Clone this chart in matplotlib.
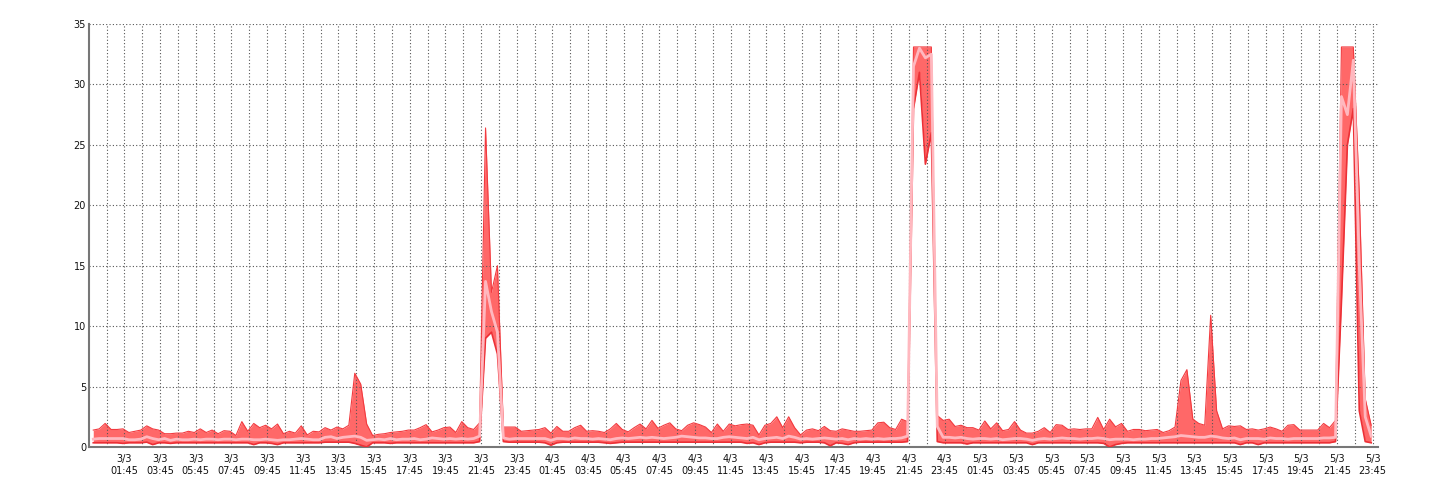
import numpy as np
import matplotlib
matplotlib.use('Agg')
import matplotlib.pyplot as plt

# 20-minute samples, 3 per hour, starting 3/3 00:00
upper = [
    1.4, 1.5, 1.95,   1.45, 1.45, 1.5,   1.2, 1.3, 1.4,    1.75, 1.5, 1.4,
    1.1, 1.1, 1.15,   1.15, 1.3, 1.2,    1.5, 1.2, 1.4,    1.1, 1.35, 1.3,
    0.95, 2.1, 1.3,   1.95, 1.6, 1.8,    1.5, 1.9, 1.1,    1.3, 1.15, 1.75,
    1.0, 1.3, 1.25,   1.6, 1.4, 1.65,    1.5, 1.8, 6.1,    5.2, 1.9, 0.95,
    1.05, 1.1, 1.2,   1.25, 1.3, 1.4,    1.4, 1.6, 1.85,   1.25, 1.4, 1.6,
    1.65, 1.2, 2.1,   1.6, 1.45, 2.0,    26.4, 12.8, 15.0, 1.65, 1.65, 1.65,
    1.3, 1.35, 1.4,   1.45, 1.6, 1.15,   1.7, 1.3, 1.3,    1.6, 1.8, 1.3,
    1.35, 1.3, 1.2,   1.5, 1.95, 1.45,   1.25, 1.6, 1.9,   1.5, 2.2, 1.55,
    1.8, 2.0, 1.5,    1.35, 1.8, 2.0,    1.85, 1.65, 1.2,  1.9, 1.3, 1.9,
    1.75, 1.85, 1.9,  1.8, 1.0, 1.8,     1.95, 2.5, 1.6,   2.5, 1.6, 1.0,
    1.4, 1.5, 1.35,   1.7, 1.35, 1.3,    1.5, 1.4, 1.3,    1.3, 1.35, 1.4,
    2.0, 2.05, 1.6,   1.45, 2.3, 2.1,    33.1, 33.1, 33.1, 33.1, 2.6, 2.2,
    2.3, 1.7, 1.8,    1.6, 1.6, 1.4,     2.15, 1.5, 2.0,   1.35, 1.45, 2.1,
    1.4, 1.15, 1.15,  1.3, 1.6, 1.2,     1.85, 1.8, 1.45,  1.5, 1.45, 1.5,
    1.5, 2.45, 1.45,  2.3, 1.67, 1.95,   1.3, 1.45, 1.45,  1.35, 1.4, 1.45,
    1.2, 1.35, 1.65,  5.5, 6.4, 2.3,     1.95, 1.8, 10.9,  3.0, 1.5, 1.75,
    1.7, 1.75, 1.45,  1.5, 1.4, 1.5,     1.65, 1.5, 1.3,   1.8, 1.85, 1.4,
    1.4, 1.4, 1.4,    1.95, 1.6, 2.2,    33.1, 33.1, 33.1, 21.0, 4.0, 1.8,
]

mean = [
    0.65, 0.7, 0.7,   0.7, 0.7, 0.7,     0.6, 0.6, 0.65,   0.85, 0.7, 0.6,
    0.7, 0.55, 0.65,  0.6, 0.6, 0.65,    0.6, 0.65, 0.65,  0.6, 0.65, 0.65,
    0.6, 0.65, 0.65,  0.6, 0.6, 0.65,    0.6, 0.55, 0.6,   0.6, 0.65, 0.7,
    0.65, 0.6, 0.6,   0.8, 0.85, 0.7,    0.8, 0.85, 0.9,   0.8, 0.55, 0.6,
    0.65, 0.6, 0.7,   0.6, 0.65, 0.65,   0.7, 0.6, 0.65,   0.75, 0.7, 0.65,
    0.7, 0.65, 0.7,   0.65, 0.7, 0.9,    13.7, 11.2, 9.5,  0.75, 0.65, 0.7,
    0.7, 0.7, 0.7,    0.7, 0.7, 0.55,    0.7, 0.7, 0.65,   0.75, 0.7, 0.7,
    0.65, 0.7, 0.65,  0.6, 0.7, 0.75,    0.7, 0.75, 0.8,   0.75, 0.8, 0.75,
    0.7, 0.75, 0.8,   0.9, 0.85, 0.8,    0.75, 0.75, 0.7,  0.7, 0.8, 0.85,
    0.8, 0.75, 0.7,   0.8, 0.6, 0.7,     0.75, 0.8, 0.7,   0.9, 0.8, 0.65,
    0.7, 0.65, 0.7,   0.75, 0.7, 0.65,   0.7, 0.6, 0.7,    0.65, 0.7, 0.65,
    0.7, 0.65, 0.7,   0.7, 0.75, 0.9,    31.5, 33.0, 32.2, 32.5, 1.7, 0.8,
    0.8, 0.75, 0.8,   0.7, 0.65, 0.7,    0.7, 0.65, 0.7,   0.6, 0.65, 0.7,
    0.7, 0.65, 0.55,  0.65, 0.7, 0.65,   0.7, 0.75, 0.7,   0.7, 0.65, 0.7,
    0.7, 0.75, 0.7,   0.6, 0.65, 0.65,   0.65, 0.6, 0.65,  0.65, 0.7, 0.7,
    0.75, 0.8, 0.85,  0.95, 0.9, 0.85,   0.8, 0.8, 0.9,    0.85, 0.75, 0.7,
    0.75, 0.6, 0.7,   0.7, 0.7, 0.65,    0.75, 0.7, 0.7,   0.65, 0.7, 0.7,
    0.7, 0.7, 0.7,    0.75, 0.75, 0.8,   29.0, 27.5, 32.0, 15.0, 2.5, 0.9,
]

lower = [
    0.35, 0.35, 0.35, 0.35, 0.35, 0.3,   0.35, 0.35, 0.35, 0.4, 0.2, 0.35,
    0.35, 0.3, 0.35,  0.35, 0.35, 0.35,  0.35, 0.35, 0.35, 0.35, 0.35, 0.35,
    0.35, 0.35, 0.35, 0.2, 0.35, 0.35,   0.3, 0.2, 0.35,   0.35, 0.35, 0.35,
    0.35, 0.35, 0.35, 0.4, 0.4, 0.4,     0.4, 0.4, 0.3,    0.15, 0.0, 0.35,
    0.35, 0.35, 0.3,  0.35, 0.35, 0.35,  0.35, 0.35, 0.35, 0.35, 0.35, 0.35,
    0.35, 0.35, 0.35, 0.35, 0.35, 0.45,  9.0, 9.5, 7.7,    0.45, 0.4, 0.4,
    0.4, 0.4, 0.4,    0.4, 0.35, 0.15,   0.35, 0.4, 0.4,   0.4, 0.4, 0.4,
    0.4, 0.4, 0.35,   0.3, 0.35, 0.4,    0.4, 0.4, 0.4,    0.4, 0.4, 0.4,
    0.4, 0.4, 0.4,    0.4, 0.4, 0.4,     0.4, 0.4, 0.4,    0.4, 0.4, 0.4,
    0.4, 0.4, 0.3,    0.35, 0.2, 0.35,   0.4, 0.4, 0.4,    0.4, 0.4, 0.35,
    0.4, 0.4, 0.4,    0.35, 0.1, 0.35,   0.3, 0.2, 0.35,   0.4, 0.4, 0.4,
    0.4, 0.4, 0.4,    0.4, 0.4, 0.45,    28.0, 31.0, 23.4, 26.0, 0.45, 0.35,
    0.35, 0.35, 0.35, 0.25, 0.35, 0.35,  0.35, 0.35, 0.35, 0.35, 0.35, 0.35,
    0.35, 0.35, 0.2,  0.35, 0.35, 0.35,  0.35, 0.35, 0.35, 0.35, 0.35, 0.35,
    0.35, 0.35, 0.3,  0.0, 0.2, 0.3,     0.35, 0.35, 0.35, 0.35, 0.35, 0.35,
    0.35, 0.35, 0.35, 0.35, 0.35, 0.35,  0.35, 0.35, 0.35, 0.35, 0.35, 0.35,
    0.35, 0.2, 0.35,  0.35, 0.2, 0.35,   0.35, 0.35, 0.35, 0.35, 0.35, 0.35,
    0.35, 0.35, 0.35, 0.35, 0.35, 0.45,  12.0, 25.0, 28.0, 3.0, 0.45, 0.35,
]

days = ['3/3', '4/3', '5/3']
clock = ['01:45', '03:45', '05:45', '07:45', '09:45', '11:45',
         '13:45', '15:45', '17:45', '19:45', '21:45', '23:45']
tick_labels = [f'{d}\n{c}' for d in days for c in clock]
y_ticks = [0, 5, 10, 15, 20, 25, 30, 35]

# hours since 2/3 23:45
t = 0.25 + np.arange(len(upper)) / 3.0

fig = plt.figure(figsize=(14.4, 5), dpi=100)
W, H = 1440.0, 500.0
x0, x1, ytop, ybot = 88.8, 1378.0, 24.0, 447.0
ax = fig.add_axes([x0 / W, 1 - ybot / H, (x1 - x0) / W, (ybot - ytop) / H])

ax.fill_between(t, lower, upper, color='#ff6868', lw=0, zorder=1)
ax.plot(t, upper, color='#f23a3f', lw=0.8, zorder=3)
ax.plot(t, lower, color='#ec3036', lw=1.2, zorder=3)
ax.plot(t, mean, color='#ffb8bf', lw=2.0, zorder=4)

ax.set_xlim(0, 72.3)
ax.set_ylim(0, 35)
ax.set_yticks(y_ticks)
ax.set_xticks(np.arange(2, 73, 2))
ax.set_xticklabels(tick_labels)
ax.set_xticks(np.arange(1, 73, 1), minor=True)

grid_kw = dict(color='#555555', lw=0.8, ls=(0, (1, 2)))
ax.grid(which='both', axis='x', **grid_kw)
ax.grid(which='major', axis='y', **grid_kw)

ax.tick_params(axis='both', which='both', length=0, labelsize=7, colors='#111111')
ax.tick_params(axis='x', pad=5)
ax.tick_params(axis='y', pad=2)

for s in ['top', 'right']:
    ax.spines[s].set_visible(False)
for s in ['left', 'bottom']:
    ax.spines[s].set_color('#777777')
    ax.spines[s].set_linewidth(1.5)

fig.savefig('out.png', dpi=100)
